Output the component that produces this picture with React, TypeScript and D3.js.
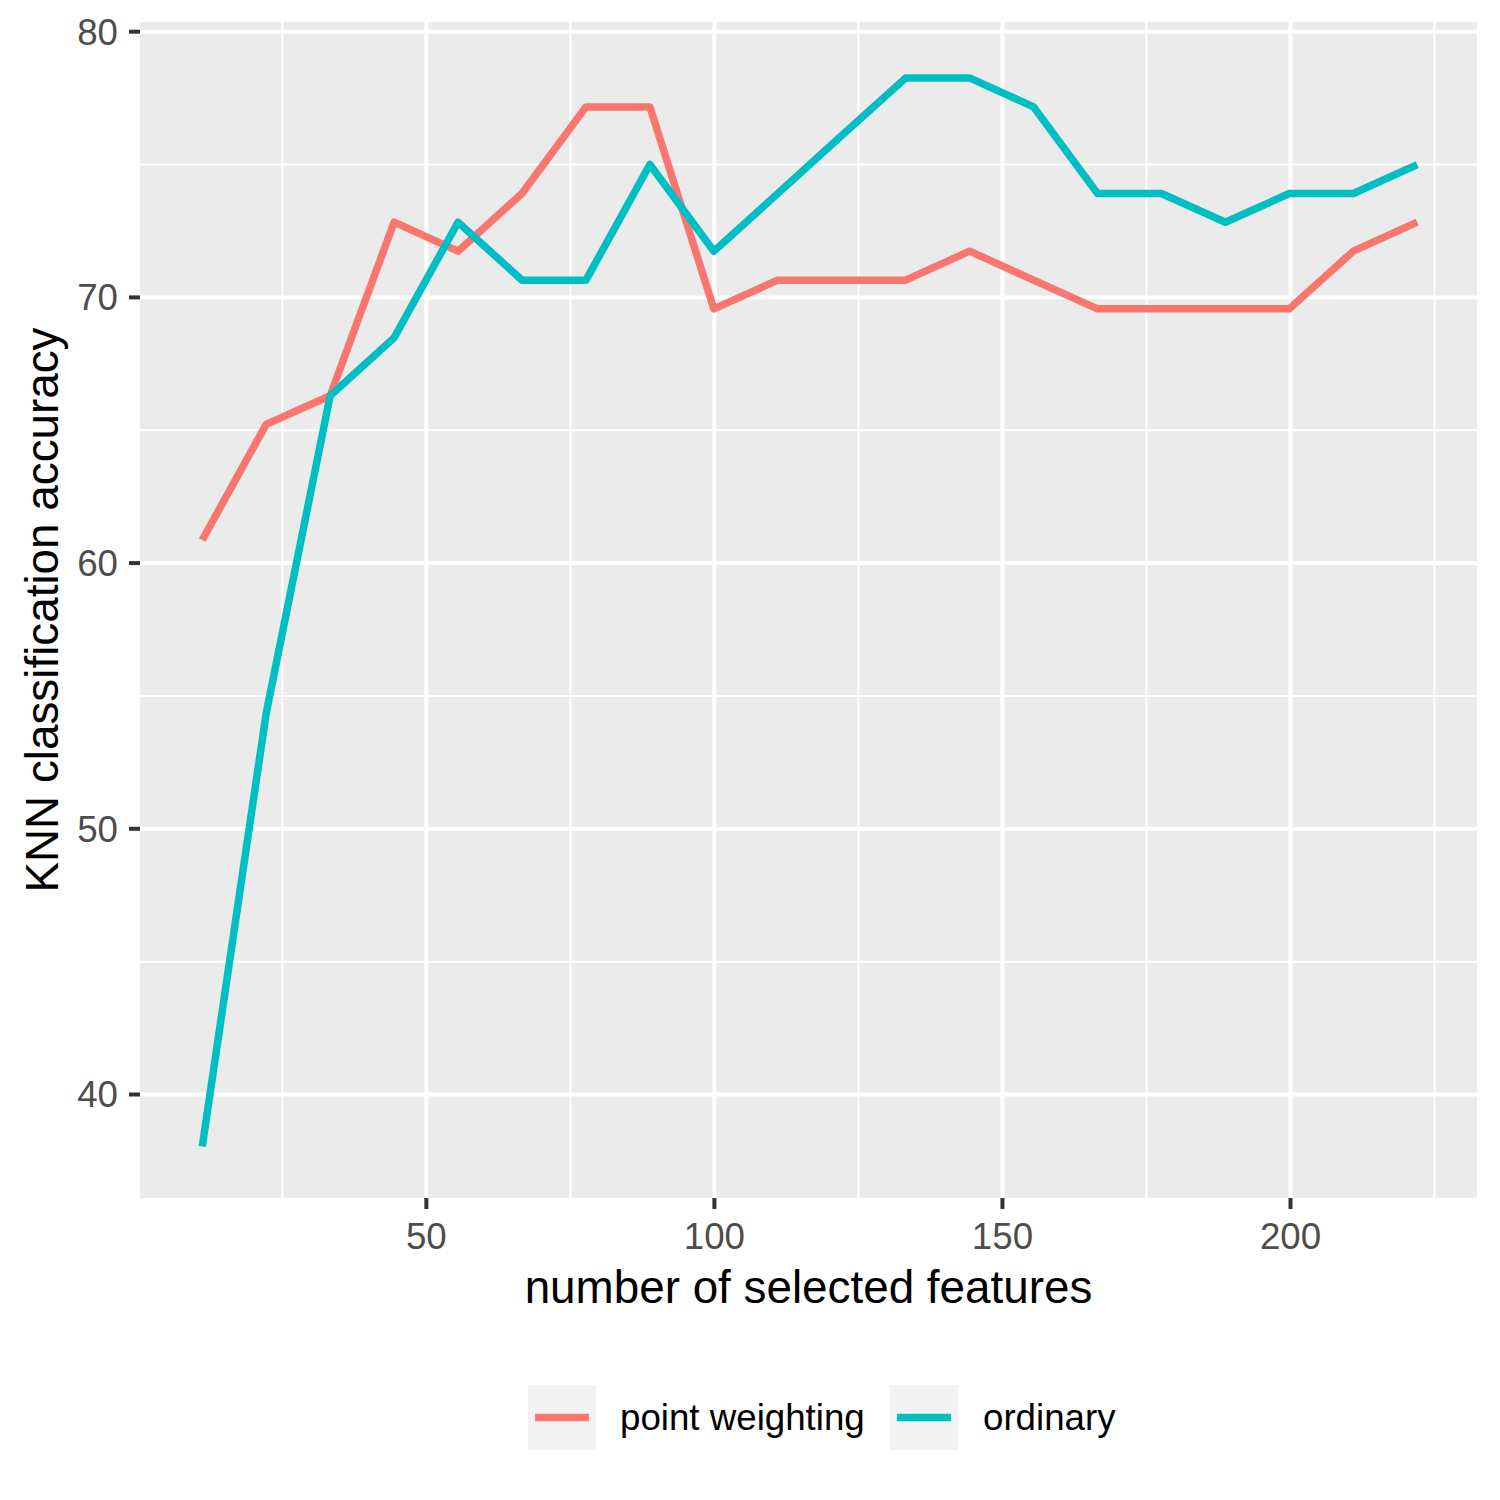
import React from 'react';
import * as d3 from 'd3';

// number of selected features (x) and accuracy of each run (%)
const features = [
  11.1, 22.2, 33.3, 44.4, 55.5, 66.6, 77.7, 88.8, 99.9, 111, 122.1, 133.2,
  144.3, 155.4, 166.5, 177.6, 188.7, 199.8, 210.9, 222,
];
const pointWeighting = [
  60.87, 65.22, 66.3, 72.83, 71.74, 73.91, 77.17, 77.17, 69.57, 70.65, 70.65,
  70.65, 71.74, 70.65, 69.57, 69.57, 69.57, 69.57, 71.74, 72.83,
];
const ordinary = [
  38.04, 54.35, 66.3, 68.48, 72.83, 70.65, 70.65, 75.0, 71.74, 73.91, 76.09,
  78.26, 78.26, 77.17, 73.91, 73.91, 72.83, 73.91, 73.91, 75.0,
];
const seriesNames = ['point weighting', 'ordinary'];
const seriesColors = ['#F8766D', '#00BFC4'];
const xTicks = [50, 100, 150, 200];
const xMinor = [25, 75, 125, 175, 225];
const yTicks = [40, 50, 60, 70, 80];
const yMinor = [45, 55, 65, 75];

const FONT = '"Liberation Sans", Arial, Helvetica, sans-serif';

export default function App() {
  const width = 1500;
  const height = 1500;
  const panel = { left: 140, right: 1477, top: 22, bottom: 1198 };

  // ggplot-style 5% expansion on both axes
  const xExt = d3.extent(features) as [number, number];
  const xPad = (xExt[1] - xExt[0]) * 0.05;
  const x = d3
    .scaleLinear()
    .domain([xExt[0] - xPad, xExt[1] + xPad])
    .range([panel.left + 1.5, panel.right + 1]);

  const allY = [...pointWeighting, ...ordinary];
  const yExt = d3.extent(allY) as [number, number];
  const yPad = (yExt[1] - yExt[0]) * 0.05;
  const y = d3
    .scaleLinear()
    .domain([yExt[0] - yPad, yExt[1] + yPad])
    .range([panel.bottom + 2, panel.top + 2.5]);

  const series = [pointWeighting, ordinary];
  const line = d3
    .line<number>()
    .x((_, i) => x(features[i]))
    .y((d) => y(d));

  const inX = (v: number) => x(v) >= panel.left && x(v) <= panel.right;
  const inY = (v: number) => y(v) >= panel.top && y(v) <= panel.bottom;

  // legend layout (bottom, centered)
  const legendY = 1385;
  const keyW = 68;
  const keyH = 65;
  const legendItems = [
    { keyX: 528, textX: 620 },
    { keyX: 890, textX: 983 },
  ];

  return (
    <div style={{ position: 'absolute', left: 0, top: 0 }}>
      <svg width={width} height={height} style={{ display: 'block' }}>
        <rect x={0} y={0} width={width} height={height} fill="#FFFFFF" />
        <rect
          x={panel.left}
          y={panel.top}
          width={panel.right - panel.left}
          height={panel.bottom - panel.top}
          fill="#EBEBEB"
        />
        {/* minor grid */}
        {xMinor.filter(inX).map((v) => (
          <line
            key={`xm${v}`}
            x1={x(v)}
            x2={x(v)}
            y1={panel.top}
            y2={panel.bottom}
            stroke="#FFFFFF"
            strokeWidth={2}
          />
        ))}
        {yMinor.filter(inY).map((v) => (
          <line
            key={`ym${v}`}
            x1={panel.left}
            x2={panel.right}
            y1={y(v)}
            y2={y(v)}
            stroke="#FFFFFF"
            strokeWidth={2}
          />
        ))}
        {/* major grid */}
        {xTicks.map((v) => (
          <line
            key={`xg${v}`}
            x1={x(v)}
            x2={x(v)}
            y1={panel.top}
            y2={panel.bottom}
            stroke="#FFFFFF"
            strokeWidth={4}
          />
        ))}
        {yTicks.map((v) => (
          <line
            key={`yg${v}`}
            x1={panel.left}
            x2={panel.right}
            y1={y(v)}
            y2={y(v)}
            stroke="#FFFFFF"
            strokeWidth={4}
          />
        ))}

        {/* data lines */}
        {series.map((s, i) => (
          <path
            key={seriesNames[i]}
            d={line(s) || ''}
            fill="none"
            stroke={seriesColors[i]}
            strokeWidth={7.5}
            strokeLinejoin="round"
          />
        ))}

        {/* axes ticks and labels */}
        {yTicks.map((v) => (
          <g key={`yt${v}`}>
            <line
              x1={panel.left - 11}
              x2={panel.left}
              y1={y(v)}
              y2={y(v)}
              stroke="#333333"
              strokeWidth={4}
            />
            <text
              x={panel.left - 22}
              y={y(v)}
              dy="0.35em"
              textAnchor="end"
              fontFamily={FONT}
              fontSize={36.7}
              fill="#4D4D4D"
            >
              {v}
            </text>
          </g>
        ))}
        {xTicks.map((v) => (
          <g key={`xt${v}`}>
            <line
              x1={x(v)}
              x2={x(v)}
              y1={panel.bottom}
              y2={panel.bottom + 11}
              stroke="#333333"
              strokeWidth={4}
            />
            <text
              x={x(v)}
              y={1249}
              textAnchor="middle"
              fontFamily={FONT}
              fontSize={36.7}
              fill="#4D4D4D"
            >
              {v}
            </text>
          </g>
        ))}

        {/* axis titles */}
        <text
          x={(panel.left + panel.right) / 2}
          y={1303}
          textAnchor="middle"
          fontFamily={FONT}
          fontSize={45.8}
          fill="#000000"
        >
          number of selected features
        </text>
        <text
          transform={`translate(58,${(panel.top + panel.bottom) / 2}) rotate(-90)`}
          textAnchor="middle"
          fontFamily={FONT}
          fontSize={45.8}
          fill="#000000"
        >
          KNN classification accuracy
        </text>

        {/* legend */}
        {legendItems.map((item, i) => (
          <g key={`lg${i}`}>
            <rect
              x={item.keyX}
              y={legendY}
              width={keyW}
              height={keyH}
              fill="#F2F2F2"
            />
            <line
              x1={item.keyX + 7}
              x2={item.keyX + keyW - 7}
              y1={legendY + keyH / 2}
              y2={legendY + keyH / 2}
              stroke={seriesColors[i]}
              strokeWidth={7.5}
            />
            <text
              x={item.textX}
              y={legendY + keyH / 2}
              dy="0.35em"
              fontFamily={FONT}
              fontSize={36.7}
              fill="#000000"
            >
              {seriesNames[i]}
            </text>
          </g>
        ))}
      </svg>
    </div>
  );
}
